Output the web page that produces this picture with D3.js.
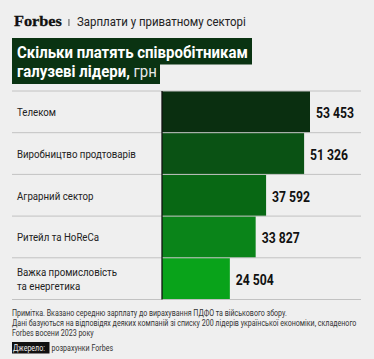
<!DOCTYPE html>
<html><head><meta charset="utf-8">
<script src="https://cdn.jsdelivr.net/npm/d3@7"></script>
<style>
html,body{margin:0;padding:0;background:#efefef;}
svg{display:block;}
</style></head>
<body><svg id="c" width="374" height="359"></svg>
<script>
const categories = ["Телеком", "Виробництво продтоварів", "Аграрний сектор", "Ритейл та HoReCa", "Важка промисловість\nта енергетика"];
const values = [53453, 51326, 37592, 33827, 24504];
const barColors = ["#0a2f10", "#0a5214", "#086814", "#0a8419", "#09a31a"];
const titleLines = ["Скільки платять співробітникам", "галузеві лідери,"];
const unit = "грн";
const subtitle = "Зарплати у приватному секторі";
const notes = ["Примітка. Вказано середню зарплату до вирахування ПДФО та військового збору.",
  "Дані базуються на відповідях деяких компаній зі списку 200 лідерів української економіки, складеного",
  "Forbes восени 2023 року"];
const sourceLabel = "Джерело:";
const sourceText = "розрахунки Forbes";

const sans = "Roboto, 'Liberation Sans', sans-serif";
const svg = d3.select("#c");
svg.append("rect").attr("width",374).attr("height",359).attr("fill","#efefef");

function squeeze(sel, x0, s){ sel.attr("transform", `translate(${x0},0) scale(${s},1) translate(${-x0},0)`); }
function fitTo(sel, x0, w){ const cw = sel.node().getComputedTextLength(); const s = w/cw; squeeze(sel,x0,s); return s; }

// header
const fb = svg.append("text").attr("x",14).attr("y",25.7).attr("font-family","'Liberation Serif','DejaVu Serif',serif")
  .attr("font-weight","bold").attr("font-size",15.5).attr("fill","#111").attr("stroke","#111").attr("stroke-width",0.3).text("Forbes");
fitTo(fb,14,48);
svg.append("rect").attr("x",68.5).attr("y",19).attr("width",0.9).attr("height",7).attr("fill","#444");
const st = svg.append("text").attr("x",77).attr("y",25.7).attr("font-family",sans).attr("font-size",12.5).attr("fill","#222").text(subtitle);
fitTo(st,77,169);

// title boxes
svg.append("rect").attr("x",12).attr("y",38).attr("width",240).attr("height",26.5).attr("fill","#0a3312");
svg.append("rect").attr("x",12).attr("y",64).attr("width",148).attr("height",20).attr("fill","#0a3312");
const t1 = svg.append("text").attr("x",17).attr("y",58.3).attr("font-family",sans).attr("font-weight","bold").attr("font-size",16.5).attr("fill","#fff").text(titleLines[0]);
const ts = fitTo(t1,17,231);
const t2 = svg.append("text").attr("x",17).attr("y",77.3).attr("font-family",sans).attr("font-size",16.5).attr("fill","#fff");
t2.append("tspan").attr("font-weight","bold").text(titleLines[1]);
t2.append("tspan").attr("font-weight","normal").attr("fill","#e8e8e8").text(" "+unit);
squeeze(t2,17,ts);

// chart
const top0 = 91, rowH = 41.7;
const y = d3.scaleBand().domain(d3.range(categories.length)).range([top0, top0+rowH*categories.length]).padding(0);
const x = d3.scaleLinear().domain([0, 53453]).range([162, 310]);

const g = svg.append("g");
g.selectAll("rect.bar").data(values).join("rect").attr("class","bar")
  .attr("x",x(0)).attr("y",(d,i)=>y(i)).attr("width",d=>x(d)-x(0)).attr("height",y.bandwidth()).attr("fill",(d,i)=>barColors[i]);

const lines = d3.range(categories.length+1).map(i=>top0+rowH*i);
g.selectAll("line.grid").data(lines).join("line").attr("class","grid")
  .attr("x1",12).attr("x2",361).attr("y1",d=>d).attr("y2",d=>d).attr("stroke","#c2c2c2").attr("stroke-width",1);
g.append("line").attr("x1",x(0)).attr("x2",x(0)).attr("y1",top0).attr("y2",top0+rowH*categories.length).attr("stroke","#111").attr("stroke-width",1.3);

// category labels
let catW = null;
categories.forEach((c,i)=>{
  const parts = c.split("\n");
  const cy = y(i)+y.bandwidth()/2;
  const t = g.append("text").attr("class","cat").attr("x",17).attr("font-family",sans).attr("font-size",11.5).attr("fill","#222");
  parts.forEach((p,k)=>t.append("tspan").attr("x",17).attr("y",cy+4.5 + (k-(parts.length-1)/2)*14).text(p));
  if(i===1) catW = t.node().getComputedTextLength();
});
const cs = 119/catW;
g.selectAll("text.cat").each(function(){ squeeze(d3.select(this),17,cs); });

// value labels
const fmt = v=>d3.format(",")(v).replace(/,/g," ");
const vals = g.selectAll("text.val").data(values).join("text").attr("class","val")
  .attr("x",d=>x(d)+6).attr("y",(d,i)=>y(i)+y.bandwidth()/2+6.5).attr("font-family",sans).attr("font-weight","bold")
  .attr("font-size",15.5).attr("fill","#111").text(fmt);
const vs = 38/vals.nodes()[0].getComputedTextLength();
vals.each(function(d){ squeeze(d3.select(this), x(d)+6, vs); });

// notes
const noteSel = notes.map((n,i)=>svg.append("text").attr("x",12).attr("y",316+i*10).attr("font-family",sans).attr("font-size",9.5).attr("fill","#333").text(n));
const ns = 345/noteSel[1].node().getComputedTextLength();
noteSel.forEach(s=>squeeze(s,12,ns));
svg.append("rect").attr("x",12).attr("y",342).attr("width",37.5).attr("height",11.5).attr("fill","#111");
const sl = svg.append("text").attr("x",13).attr("y",350.8).attr("font-family",sans).attr("font-size",9.5).attr("fill","#eee").text(sourceLabel);
squeeze(sl,13,ns);
const sx = svg.append("text").attr("x",51.5).attr("y",350.8).attr("font-family",sans).attr("font-size",9.5).attr("fill","#333").text(sourceText);
squeeze(sx,51.5,ns);
</script></body></html>
